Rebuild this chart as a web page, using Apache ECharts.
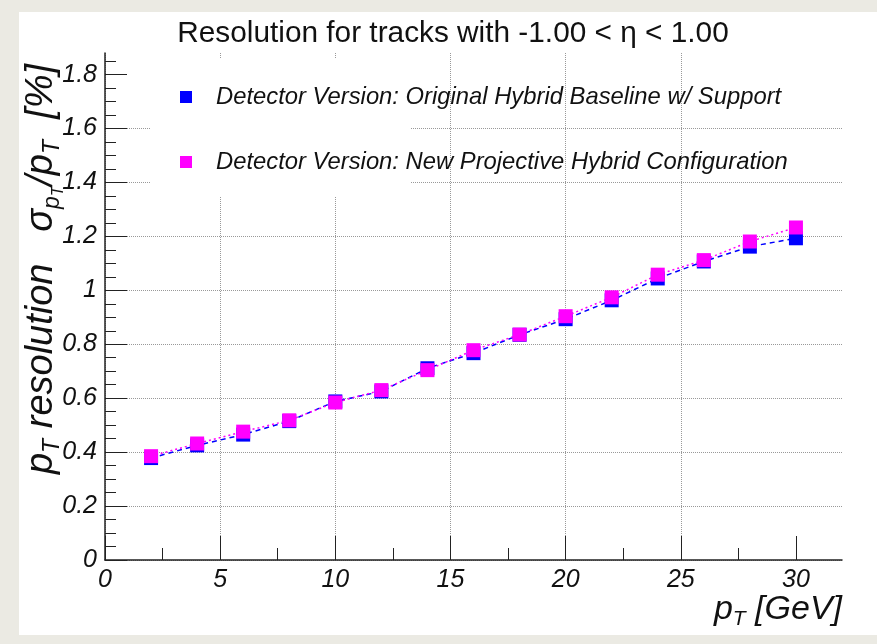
<!DOCTYPE html>
<html>
<head>
<meta charset="utf-8">
<script src="https://cdn.jsdelivr.net/npm/echarts@6/dist/echarts.min.js"></script>
<style>
	html, body { margin: 0; padding: 0; }
	#chart { width: 877px; height: 644px; }
</style>
</head>
<body>
<div id="chart"></div>
<script>
// pT points (GeV)
var ptValues = [2, 4, 6, 8, 10, 12, 14, 16, 18, 20, 22, 24, 26, 28, 30];
// resolution [%]
var originalHybrid = [0.378, 0.425, 0.465, 0.515, 0.588, 0.625, 0.711, 0.767, 0.835, 0.893, 0.963, 1.044, 1.107, 1.162, 1.193];
var newProjective = [0.385, 0.432, 0.476, 0.518, 0.584, 0.630, 0.704, 0.778, 0.836, 0.904, 0.974, 1.058, 1.112, 1.181, 1.233];
var seriesNames = ['Detector Version: Original Hybrid Baseline w/ Support', 'Detector Version: New Projective Hybrid Configuration'];
// major tick positions
var xTicks = [0, 5, 10, 15, 20, 25, 30];
var yTicks = [0, 0.2, 0.4, 0.6, 0.8, 1, 1.2, 1.4, 1.6, 1.8];

function pairs(ys) {
	return ptValues.map(function (x, i) {
		return [x, ys[i]];
	});
}

var font = 'Liberation Sans';
var myChart = echarts.init(document.getElementById('chart'));

var xNameRich = {
	p: { fontFamily: font, fontSize: 34, fontStyle: 'italic', color: '#111' },
	sub: { fontFamily: font, fontSize: 21, fontStyle: 'italic', color: '#111', padding: [20, 0, 0, 0] }
};
var yNameRich = {
	p: { fontFamily: font, fontSize: 38, fontStyle: 'italic', color: '#111' },
	sub: { fontFamily: font, fontSize: 23, fontStyle: 'italic', color: '#111', padding: [22, 0, 0, 0] },
	subsub: { fontFamily: font, fontSize: 17, fontStyle: 'italic', color: '#111', padding: [34, 0, 0, 0] }
};

var option = {
	backgroundColor: '#ebeae3',
	animation: false,
	textStyle: { fontFamily: font },
	title: {
		text: 'Resolution for tracks with -1.00 < η < 1.00',
		left: 448,
		textAlign: 'center',
		top: 14,
		textStyle: { fontFamily: font, fontSize: 29.8, fontWeight: 'normal', color: '#111' }
	},
	graphic: [
		{ type: 'rect', z: -100, silent: true, shape: { x: 19, y: 12, width: 858, height: 623 }, style: { fill: '#fff' } },
		// legend pave hides the grid behind it
		{ type: 'rect', z: 1, silent: true, shape: { x: 150, y: 58, width: 260, height: 139 }, style: { fill: '#fff' } }
	],
	legend: {
		orient: 'vertical',
		left: 175,
		top: 80,
		itemGap: 41,
		itemWidth: 12,
		itemHeight: 12,
		icon: 'rect',
		data: seriesNames,
		textStyle: { fontFamily: font, fontSize: 23.8, fontStyle: 'italic', color: '#111', padding: [0, 0, 0, 19] }
	},
	grid: { left: 105, right: 35, top: 53, bottom: 84, outerBoundsMode: 'none' },
	xAxis: {
		type: 'value',
		min: 0,
		max: 32,
		interval: 5,
		name: '{p|p}{sub|T}{p| [GeV]}',
		nameLocation: 'end',
		nameGap: 0,
		nameMoveOverlap: false,
		nameTextStyle: {
			align: 'right',
			verticalAlign: 'top',
			padding: [29, 0, 0, 0],
			rich: xNameRich
		},
		axisLine: { lineStyle: { color: '#222', width: 1.5 } },
		axisTick: { inside: true, length: 24, customValues: xTicks, lineStyle: { color: '#222' } },
		minorTick: { show: true, splitNumber: 2, length: 12, lineStyle: { color: '#222' } },
		axisLabel: { showMaxLabel: false, margin: 8, fontFamily: font, fontSize: 25, fontStyle: 'italic', color: '#111' },
		splitLine: { show: true, showMaxLine: false, lineStyle: { color: '#999', type: 'dotted' } }
	},
	yAxis: {
		type: 'value',
		min: 0,
		max: 1.88,
		interval: 0.2,
		name: '{p|p}{sub|T}{p| resolution   σ}{sub|p}{subsub|T}{p|/p}{sub|T}{p|  [%]}',
		nameLocation: 'middle',
		nameRotate: 90,
		nameGap: 38,
		nameMoveOverlap: false,
		nameTextStyle: {
			padding: [0, 0, 0, 75],
			rich: yNameRich
		},
		axisLine: { show: true, lineStyle: { color: '#222', width: 1.5 } },
		axisTick: { show: true, inside: true, length: 22, customValues: yTicks, lineStyle: { color: '#222' } },
		minorTick: { show: true, splitNumber: 4, length: 11, lineStyle: { color: '#222' } },
		axisLabel: {
			showMaxLabel: false,
			margin: 8,
			fontFamily: font,
			fontSize: 25,
			fontStyle: 'italic',
			color: '#111',
			formatter: function (v) {
				return String(Math.round(v * 10) / 10);
			}
		},
		splitLine: { show: true, showMaxLine: false, lineStyle: { color: '#999', type: 'dotted' } }
	},
	series: [
		{
			name: seriesNames[0],
			type: 'line',
			data: pairs(originalHybrid),
			symbol: 'rect',
			symbolSize: 14,
			z: 2,
			itemStyle: { color: '#0000ff' },
			lineStyle: { color: '#0000ff', width: 1.5, type: [5, 4] }
		},
		{
			name: seriesNames[1],
			type: 'line',
			data: pairs(newProjective),
			symbol: 'rect',
			symbolSize: 14,
			z: 3,
			itemStyle: { color: '#ff00ff' },
			lineStyle: { color: '#ff00ff', width: 1.5, type: [2, 3] }
		}
	]
};

myChart.setOption(option);
</script>
</body>
</html>
